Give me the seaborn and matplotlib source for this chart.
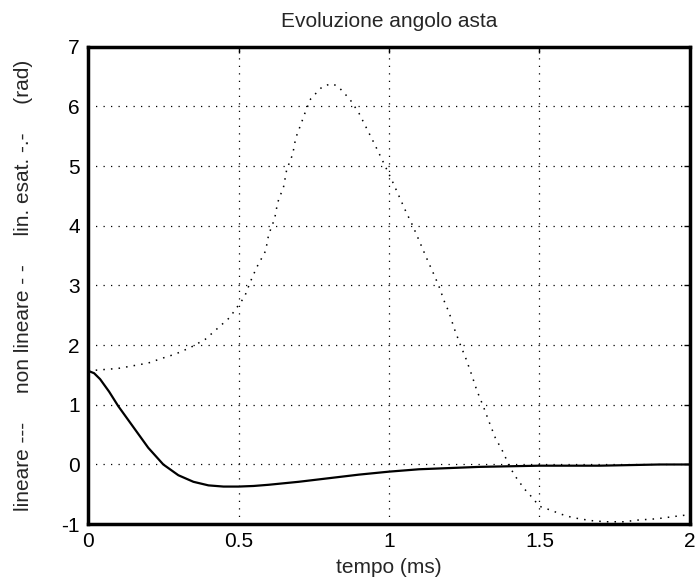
import pandas as pd
import matplotlib.pyplot as plt
import numpy as np
import seaborn as sns

# linear model (solid)
t_lin = [0, 0.02, 0.04, 0.07, 0.1, 0.15, 0.2, 0.25, 0.3, 0.35, 0.4, 0.45, 0.5,
         0.55, 0.6, 0.7, 0.8, 0.9, 1.0, 1.1, 1.2, 1.3, 1.4, 1.5, 1.6, 1.7, 1.8, 1.9, 2.0]
y_lin = [1.57, 1.53, 1.43, 1.22, 0.98, 0.63, 0.28, 0.0, -0.18, -0.29, -0.35, -0.37, -0.37,
         -0.36, -0.34, -0.29, -0.23, -0.17, -0.12, -0.08, -0.06, -0.04, -0.03, -0.02, -0.02,
         -0.02, -0.01, 0.0, 0.0]

# saturated linear model (dotted)
t_sat = [0, 0.1, 0.2, 0.24, 0.29, 0.34, 0.39, 0.43, 0.47, 0.5, 0.52, 0.54, 0.56, 0.59,
         0.6, 0.62, 0.63, 0.65, 0.66, 0.68, 0.69, 0.71, 0.72, 0.74, 0.78, 0.81, 0.83, 0.85,
         0.87, 0.9, 0.925, 0.95, 0.975, 1.01, 1.033, 1.056, 1.079, 1.102, 1.124, 1.147,
         1.165, 1.187, 1.199, 1.216, 1.236, 1.256, 1.275, 1.292, 1.313, 1.333, 1.353, 1.38,
         1.40, 1.42, 1.45, 1.47, 1.5, 1.54, 1.57, 1.61, 1.67, 1.72, 1.78, 1.83, 1.89, 1.95, 2.0]
y_sat = [1.57, 1.61, 1.70, 1.77, 1.85, 1.96, 2.10, 2.28, 2.46, 2.67, 2.81, 3.07, 3.30, 3.58,
         3.85, 4.12, 4.39, 4.66, 4.94, 5.20, 5.47, 5.74, 5.88, 6.13, 6.34, 6.38, 6.34, 6.23,
         6.12, 5.89, 5.64, 5.39, 5.13, 4.76, 4.50, 4.24, 4.00, 3.73, 3.47, 3.21,
         3.00, 2.69, 2.56, 2.29, 2.02, 1.77, 1.50, 1.24, 0.98, 0.71, 0.45, 0.20,
         -0.03, -0.20, -0.41, -0.52, -0.70, -0.77, -0.83, -0.89, -0.94, -0.96, -0.96, -0.93,
         -0.91, -0.87, -0.84]

xticks = [0, 0.5, 1, 1.5, 2]
xtick_labels = ["0", "0.5", "1", "1.5", "2"]
yticks = [-1, 0, 1, 2, 3, 4, 5, 6, 7]

sns.set_style("white")
plt.rcParams['font.family'] = ['Liberation Sans', 'DejaVu Sans']
plt.rcParams['axes.unicode_minus'] = False

df_lin = pd.DataFrame({"t": t_lin, "y": y_lin})
df_sat = pd.DataFrame({"t": t_sat, "y": y_sat})

fig = plt.figure(figsize=(6.99, 5.85), dpi=100)
ax = fig.add_axes([0.126, 0.104, 0.861, 0.816])

sns.lineplot(data=df_sat, x="t", y="y", ax=ax, color="black", linewidth=1.1,
             linestyle=(0, (1, 4)), sort=False)
sns.lineplot(data=df_lin, x="t", y="y", ax=ax, color="black", linewidth=1.6, sort=False)

ax.set_xlim(0, 2)
ax.set_ylim(-1, 7)
ax.set_xticks(xticks)
ax.set_xticklabels(xtick_labels)
ax.set_yticks(yticks)
ax.grid(True, color="black", linestyle=(0, (1, 5)), linewidth=0.9)
for s in ax.spines.values():
    s.set_linewidth(2.5)
    s.set_color("black")
ax.tick_params(direction="in", length=4, width=1, labelsize=15, colors="black", pad=6,
               top=True, right=True)

ax.set_title("Evoluzione angolo asta", fontsize=15, pad=14)
ax.set_xlabel("tempo (ms)", fontsize=15, labelpad=5)
ax.set_ylabel("lineare ---     non lineare - -     lin. esat. -.-     (rad)", fontsize=15,
              labelpad=20)

plt.savefig("out.png", dpi=100)
